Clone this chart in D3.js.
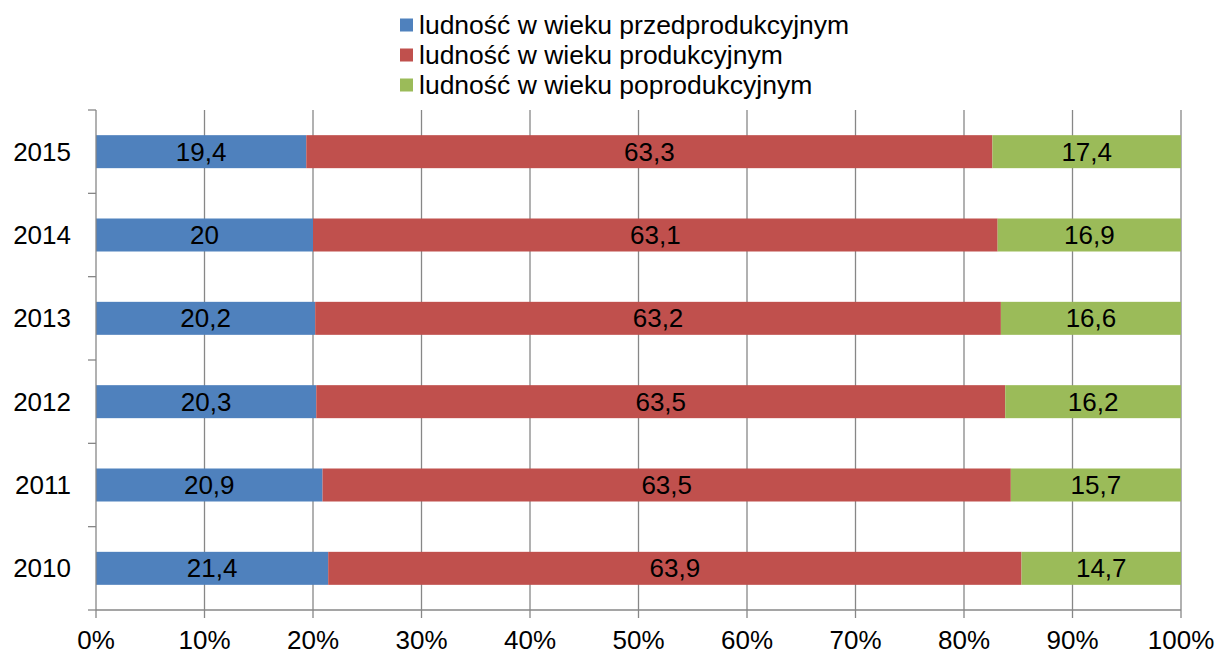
<!DOCTYPE html>
<html>
<head>
<meta charset="utf-8">
<script src="https://cdn.jsdelivr.net/npm/d3@7"></script>
<style>
  body { margin: 0; background: #fff; }
  text { font-family: "Liberation Sans", Arial, sans-serif; fill: #000; }
</style>
</head>
<body>
<div id="container"></div>
<script>
const years = ["2015", "2014", "2013", "2012", "2011", "2010"];
const przed = [19.4, 20, 20.2, 20.3, 20.9, 21.4];
const prod = [63.3, 63.1, 63.2, 63.5, 63.5, 63.9];
const poprod = [17.4, 16.9, 16.6, 16.2, 15.7, 14.7];
const seriesNames = ["ludność w wieku przedprodukcyjnym", "ludność w wieku produkcyjnym", "ludność w wieku poprodukcyjnym"];
const colors = ["#4F81BD", "#C0504D", "#9BBB59"];
const ticks = [0, 0.1, 0.2, 0.3, 0.4, 0.5, 0.6, 0.7, 0.8, 0.9, 1];

var W = 1217, H = 655;
var plotLeft = 96, plotRight = 1181, plotTop = 110, plotBottom = 610;
var fs = 26;

var svg = d3.select("#container").append("svg")
    .attr("width", W)
    .attr("height", H);

var x = d3.scaleLinear().domain([0, 1]).range([plotLeft, plotRight]);
var yBand = d3.scaleBand().domain(years).range([plotTop, plotBottom]);

// gridlines
svg.append("g")
    .selectAll("line")
    .data(ticks.slice(1))
    .join("line")
    .attr("x1", d => x(d)).attr("x2", d => x(d))
    .attr("y1", plotTop).attr("y2", plotBottom)
    .attr("stroke", "#878787")
    .attr("stroke-width", 1.3);

// stacked bars, normalised to 100%
var rows = years.map(function (yr, i) {
    var vals = [przed[i], prod[i], poprod[i]];
    var total = d3.sum(vals);
    var acc = 0;
    return vals.map(function (v, k) {
        var seg = { year: yr, k: k, v: v, x0: acc / total, x1: (acc + v) / total };
        acc += v;
        return seg;
    });
}).flat();

var bh = 33;
svg.append("g")
    .selectAll("rect")
    .data(rows)
    .join("rect")
    .attr("x", d => x(d.x0))
    .attr("width", d => x(d.x1) - x(d.x0))
    .attr("y", d => yBand(d.year) + yBand.bandwidth() / 2 - bh / 2)
    .attr("height", bh)
    .attr("fill", d => colors[d.k]);

svg.append("g")
    .selectAll("text")
    .data(rows)
    .join("text")
    .attr("x", d => (x(d.x0) + x(d.x1)) / 2)
    .attr("y", d => yBand(d.year) + yBand.bandwidth() / 2 + 9)
    .attr("text-anchor", "middle")
    .attr("font-size", fs)
    .text(d => String(d.v).replace(".", ","));

// y axis
var yAxis = svg.append("g");
yAxis.append("line")
    .attr("x1", plotLeft).attr("x2", plotLeft)
    .attr("y1", plotTop).attr("y2", plotBottom)
    .attr("stroke", "#878787").attr("stroke-width", 1.3);
yAxis.selectAll("line.tick")
    .data(d3.range(years.length + 1))
    .join("line")
    .attr("class", "tick")
    .attr("x1", plotLeft - 8).attr("x2", plotLeft)
    .attr("y1", d => plotTop + d * yBand.step())
    .attr("y2", d => plotTop + d * yBand.step())
    .attr("stroke", "#878787").attr("stroke-width", 1.3);
yAxis.selectAll("text")
    .data(years)
    .join("text")
    .attr("x", 71)
    .attr("y", d => yBand(d) + yBand.bandwidth() / 2 + 9)
    .attr("text-anchor", "end")
    .attr("font-size", fs)
    .text(d => d);

// x axis
var xAxis = svg.append("g");
xAxis.append("line")
    .attr("x1", plotLeft).attr("x2", plotRight)
    .attr("y1", plotBottom).attr("y2", plotBottom)
    .attr("stroke", "#878787").attr("stroke-width", 1.3);
xAxis.selectAll("line.tick")
    .data(ticks)
    .join("line")
    .attr("class", "tick")
    .attr("x1", d => x(d)).attr("x2", d => x(d))
    .attr("y1", plotBottom).attr("y2", plotBottom + 8)
    .attr("stroke", "#878787").attr("stroke-width", 1.3);
xAxis.selectAll("text")
    .data(ticks)
    .join("text")
    .attr("x", d => x(d))
    .attr("y", 649)
    .attr("text-anchor", "middle")
    .attr("font-size", fs)
    .text(d => Math.round(d * 100) + "%");

// legend
var legend = svg.append("g")
    .selectAll("g")
    .data(seriesNames)
    .join("g")
    .attr("transform", (d, i) => "translate(400," + (25 + i * 30) + ")");
legend.append("rect")
    .attr("x", 0).attr("y", -6.5)
    .attr("width", 13).attr("height", 13)
    .attr("fill", (d, i) => colors[i]);
legend.append("text")
    .attr("x", 19).attr("y", 9)
    .attr("font-size", 26.5)
    .text(d => d);
</script>
</body>
</html>
